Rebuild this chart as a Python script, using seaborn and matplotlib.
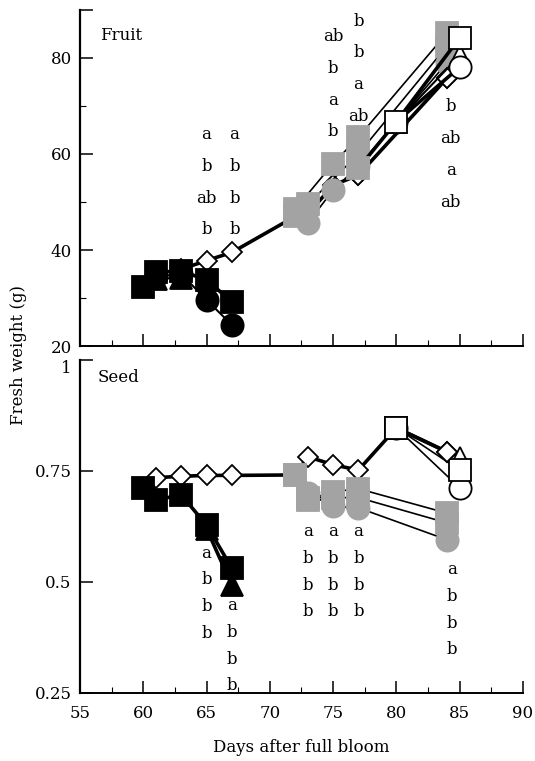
import matplotlib
matplotlib.use('Agg')
import matplotlib.pyplot as plt
import seaborn as sns
from matplotlib.ticker import MultipleLocator, NullLocator

sns.set_theme(style='ticks')
plt.rcParams['font.family'] = ['DejaVu Serif']
plt.rcParams['font.size'] = 12
plt.rcParams['text.color'] = 'black'
plt.rcParams['axes.labelcolor'] = 'black'
plt.rcParams['xtick.color'] = 'black'
plt.rcParams['ytick.color'] = 'black'

# ---- Fruit panel (fresh weight, g) ----
fr_sq_days = [60, 61, 63, 65, 67]
fr_sq_vals = [32.3, 35.4, 35.6, 33.8, 29.2]
fr_ci_days = [61, 63, 65, 67]
fr_ci_vals = [34.5, 35.0, 29.6, 24.4]
fr_tr_days = [61, 63]
fr_tr_vals = [34.0, 34.2]
fr_ctl_days = [63, 65, 67, 72, 73, 75, 77, 84]
fr_ctl_vals = [36.0, 37.8, 39.5, 47.0, 47.5, 53.5, 55.6, 75.8]
fr_g1_days = [72, 75, 77, 84]
fr_g1_vals = [48.5, 58.0, 63.5, 85.2]
fr_g2_days = [73, 75, 77, 84]
fr_g2_vals = [45.6, 52.5, 57.5, 79.0]
fr_g3_days = [73, 77, 84]
fr_g3_vals = [49.5, 60.0, 82.5]
fr_w1_days = [77, 80, 85]
fr_w1_vals = [57.0, 66.7, 84.2]
fr_w2_days = [80, 85]
fr_w2_vals = [66.7, 78.1]
fr_w3_days = [80, 85]
fr_w3_vals = [66.7, 80.5]

# ---- Seed panel ----
sd_sq_days = [60, 61, 63, 65, 67]
sd_sq_vals = [0.712, 0.685, 0.696, 0.628, 0.531]
sd_tr_days = [65, 67]
sd_tr_vals = [0.62, 0.493]
sd_ctl_days = [61, 63, 65, 67, 72, 73, 75, 77, 80, 84]
sd_ctl_vals = [0.735, 0.738, 0.740, 0.740, 0.741, 0.782, 0.764, 0.752, 0.847, 0.793]
sd_g1_days = [72, 73, 75, 77, 84]
sd_g1_vals = [0.741, 0.685, 0.703, 0.710, 0.655]
sd_g2_days = [73, 75, 77, 84]
sd_g2_vals = [0.700, 0.670, 0.667, 0.595]
sd_g3_days = [73, 75, 77, 84]
sd_g3_vals = [0.690, 0.690, 0.690, 0.633]
sd_w1_days = [80, 85]
sd_w1_vals = [0.847, 0.752]
sd_w2_days = [80, 85]
sd_w2_vals = [0.847, 0.712]
sd_w3_days = [80, 85]
sd_w3_vals = [0.847, 0.780]

# significance letters
fr_let_x = [65, 67.2, 75, 77, 84.3]
fr_let_top = [64.0, 64.0, 84.4, 87.7, 69.8]
fr_letters = [['a', 'b', 'ab', 'b'], ['a', 'b', 'b', 'b'], ['ab', 'b', 'a', 'b'],
              ['b', 'b', 'a', 'ab'], ['b', 'ab', 'a', 'ab']]
sd_let_x = [65, 67, 73, 75, 77, 84.4]
sd_let_top = [0.565, 0.446, 0.613, 0.613, 0.613, 0.527]
sd_letters = [['a', 'b', 'b', 'b']] * 6

GREY = '#a3a3a3'
MS = {'s': 16.5, 'o': 16, '^': 16, 'D': 10}
tone_face = {'k': 'black', 'g': GREY, 'w': 'white'}
tone_edge = {'k': 'black', 'g': GREY, 'w': 'black'}


def draw(ax, days, vals, marker, tone, lw, z):
    sns.lineplot(x=days, y=vals, ax=ax, color='black', lw=lw, sort=False,
                 estimator=None, zorder=z)
    for d, v, m, t in zip(days, vals, marker, tone):
        ax.plot(d, v, marker=m, ms=MS[m], mfc=tone_face[t], mec=tone_edge[t],
                mew=1.3, ls='none', zorder=z + 0.5)


fig = plt.figure(figsize=(5.35, 7.61), dpi=100)
ax1 = fig.add_axes([0.1495, 0.5453, 0.828, 0.4416])
ax2 = fig.add_axes([0.1495, 0.0894, 0.828, 0.4376])

# fruit
draw(ax1, fr_ctl_days, fr_ctl_vals, 'DDDsDDDD', 'wwwgwwww', 2.6, 2)
draw(ax1, fr_g2_days, fr_g2_vals, 'oooo', 'gggg', 1.2, 3)
draw(ax1, fr_g3_days, fr_g3_vals, 'sss', 'ggg', 1.2, 3)
draw(ax1, fr_g1_days, fr_g1_vals, 'ssss', 'gggg', 1.2, 3)
draw(ax1, fr_ctl_days[-2:], fr_ctl_vals[-2:], 'DD', 'ww', 0, 4)
draw(ax1, fr_w3_days, fr_w3_vals, '^^', 'ww', 1.5, 5)
draw(ax1, fr_w2_days, fr_w2_vals, 'oo', 'ww', 2.6, 5)
draw(ax1, fr_w1_days, fr_w1_vals, 'sss', 'gww', 2.6, 6)
draw(ax1, fr_tr_days, fr_tr_vals, '^^', 'kk', 1.5, 6)
draw(ax1, fr_ci_days, fr_ci_vals, 'oooo', 'kkkk', 1.5, 6)
draw(ax1, fr_sq_days, fr_sq_vals, 'sssss', 'kkkkk', 2.6, 7)

# seed
draw(ax2, sd_ctl_days, sd_ctl_vals, 'DDDDsDDDsD', 'wwwwgwwwww', 2.6, 2)
draw(ax2, sd_g3_days, sd_g3_vals, 'ssss', 'gggg', 1.2, 3)
draw(ax2, sd_g2_days, sd_g2_vals, 'oooo', 'gggg', 1.2, 3)
draw(ax2, sd_g1_days, sd_g1_vals, 'sssss', 'ggggg', 1.2, 3)
draw(ax2, sd_w2_days, sd_w2_vals, 'oo', 'ww', 1.2, 5)
draw(ax2, sd_w3_days, sd_w3_vals, '^^', 'ww', 1.2, 5)
draw(ax2, sd_w1_days, sd_w1_vals, 'ss', 'ww', 1.2, 6)
draw(ax2, sd_ctl_days[-2:], sd_ctl_vals[-2:], 'sD', 'ww', 2.6, 6)
draw(ax2, sd_tr_days, sd_tr_vals, '^^', 'kk', 2.6, 6)
draw(ax2, sd_sq_days, sd_sq_vals, 'sssss', 'kkkkk', 2.6, 7)

for x, top, labs in zip(fr_let_x, fr_let_top, fr_letters):
    for i, t in enumerate(labs):
        ax1.text(x, top - i * 6.6, t, ha='center', va='center', fontsize=12, zorder=10)
for x, top, labs in zip(sd_let_x, sd_let_top, sd_letters):
    for i, t in enumerate(labs):
        ax2.text(x, top - i * 0.06, t, ha='center', va='center', fontsize=12, zorder=10)

for ax in (ax1, ax2):
    ax.set_xlim(55, 90)
    ax.xaxis.set_major_locator(MultipleLocator(5))
    ax.xaxis.set_minor_locator(MultipleLocator(2.5))
    sns.despine(ax=ax, top=True, right=True)
    ax.spines['left'].set_linewidth(1.6)
    ax.spines['bottom'].set_linewidth(1.4)
    ax.spines['left'].set_color('black')
    ax.spines['bottom'].set_color('black')
    ax.tick_params(which='major', direction='in', length=9, width=1.1, colors='black',
                   labelsize=12, pad=6)
    ax.tick_params(which='minor', direction='in', length=4.5, width=0.8, colors='black')
    ax.set_facecolor('white')

ax1.set_ylim(20, 90)
ax1.set_yticks([20, 40, 60, 80, 90])
ax1.set_yticklabels(['20', '40', '60', '80', ''])
ax1.yaxis.set_minor_locator(MultipleLocator(10))
ax1.set_xticklabels([])
ax1.text(0.045, 0.925, 'Fruit', transform=ax1.transAxes, ha='left', va='center', fontsize=12)

ax2.set_ylim(0.25, 1.0)
ax2.set_yticks([0.25, 0.5, 0.75, 1.0])
ax2.set_yticklabels(['0.25', '0.5', '0.75', '1'])
ax2.yaxis.set_minor_locator(NullLocator())
ax2.get_yticklabels()[-1].set_va('top')
ax2.set_xticks([55, 60, 65, 70, 75, 80, 85, 90])
ax2.set_xticklabels(['55', '60', '65', '70', '75', '80', '85', '90'])
ax2.tick_params(axis='x', which='major', pad=9)
ax2.text(0.04, 0.946, 'Seed', transform=ax2.transAxes, ha='left', va='center', fontsize=12)
ax2.set_xlabel('Days after full bloom', fontsize=12, labelpad=12)

fig.text(0.034, 0.533, 'Fresh weight (g)', rotation=90, ha='center', va='center', fontsize=12)

fig.savefig('out.png', dpi=100, facecolor='white')
